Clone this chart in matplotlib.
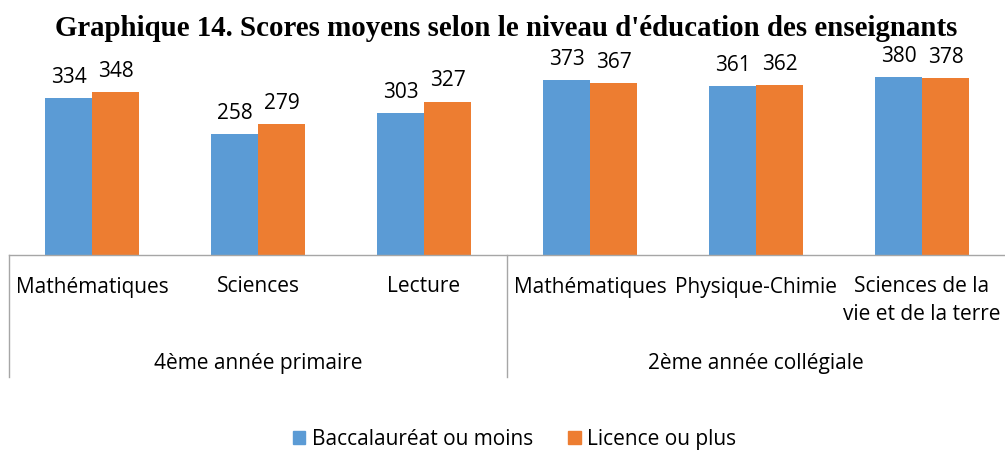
import numpy as np
import matplotlib.pyplot as plt
from matplotlib.transforms import blended_transform_factory
from matplotlib.patches import Patch

# data
subjects = ['Mathématiques', 'Sciences', 'Lecture',
            'Mathématiques', 'Physique-Chimie', 'Sciences de la\nvie et de la terre']
levels = ['4ème année primaire', '2ème année collégiale']
level_sizes = [3, 3]
bac_ou_moins = [334, 258, 303, 373, 361, 380]
licence_ou_plus = [348, 279, 327, 367, 362, 378]
series_names = ['Baccalauréat ou moins', 'Licence ou plus']

blue = '#5B9BD5'
orange = '#ED7D31'
grid_grey = '#A6A6A6'
label_font = 'Open Sans'
fs = 15

W, H = 1005, 452
fig = plt.figure(figsize=(W / 100, H / 100), dpi=100)
base_px = 255.6
top_px = 68.4
ax = fig.add_axes([9 / W, (H - base_px) / H, (W - 9) / W, (base_px - top_px) / H])

x = np.arange(len(subjects))
bw = 0.283
b1 = ax.bar(x - bw / 2, bac_ou_moins, bw, color=blue)
b2 = ax.bar(x + bw / 2, licence_ou_plus, bw, color=orange)
for bars in (b1, b2):
    ax.bar_label(bars, padding=8, fontsize=fs, family=label_font, color='#000000')

ax.set_xlim(-0.5, len(subjects) - 0.5)
ax.set_ylim(0, 400)
for s in ['top', 'left', 'right']:
    ax.spines[s].set_visible(False)
ax.spines['bottom'].set_color(grid_grey)
ax.spines['bottom'].set_linewidth(1.0)
ax.set_xticks([])
ax.set_yticks([])

trans = blended_transform_factory(ax.transData, ax.transAxes)
ax_h = base_px - top_px

# separators of the two-level category axis
edges = np.cumsum([0] + level_sizes) - 0.5
for e in edges[:-1]:
    ax.plot([e, e], [0, -122 / ax_h], transform=trans, color=grid_grey,
            lw=1.0, clip_on=False)

# subject labels
for i, s in enumerate(subjects):
    if '\n' in s:
        l1, l2 = s.split('\n')
        ax.text(i, -31.4 / ax_h, l1, transform=trans, ha='center', va='center',
                fontsize=fs, family=label_font)
        ax.text(i, -59.4 / ax_h, l2, transform=trans, ha='center', va='center',
                fontsize=fs, family=label_font)
    else:
        ax.text(i, -31.4 / ax_h, s, transform=trans, ha='center', va='center',
                fontsize=fs, family=label_font)

# level labels
for k, lv in enumerate(levels):
    c = (edges[k] + edges[k + 1]) / 2
    ax.text(c, -107.4 / ax_h, lv, transform=trans, ha='center', va='center',
            fontsize=fs, family=label_font)

fig.text(506.5 / W, 1 - 29 / H,
         "Graphique 14. Scores moyens selon le niveau d'éducation des enseignants",
         ha='center', va='center', fontsize=20.8, fontweight='bold',
         family='Liberation Serif')

handles = [Patch(color=blue), Patch(color=orange)]
fig.legend(handles, series_names, loc='center', bbox_to_anchor=(0.512, 1 - 440 / H),
           ncol=2, frameon=False, prop={'family': label_font, 'size': fs},
           handlelength=0.6, handleheight=0.6, handletextpad=0.3,
           columnspacing=1.7, borderpad=0.2)

fig.savefig('out.png', dpi=100)
